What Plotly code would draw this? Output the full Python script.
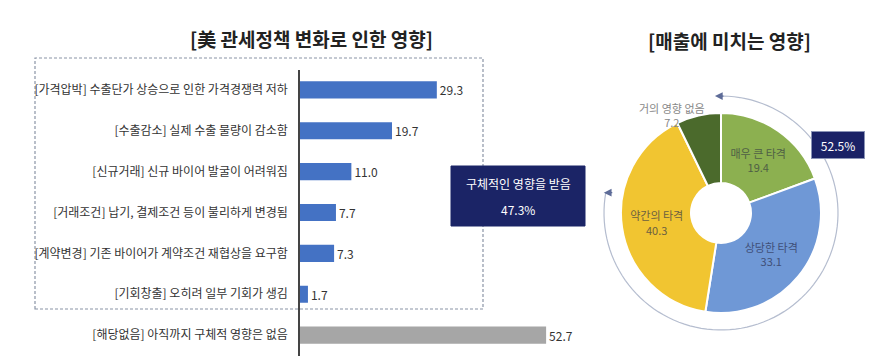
import math
import plotly.graph_objects as go

W, H = 893, 361

# ---------------- data ----------------
bar_labels = [
    "[가격압박] 수출단가 상승으로 인한 가격경쟁력 저하",
    "[수출감소] 실제 수출 물량이 감소함",
    "[신규거래] 신규 바이어 발굴이 어려워짐",
    "[거래조건] 납기, 결제조건 등이 불리하게 변경됨",
    "[계약변경] 기존 바이어가 계약조건 재협상을 요구함",
    "[기회창출] 오히려 일부 기회가 생김",
    "[해당없음] 아직까지 구체적 영향은 없음",
]
bar_values = [29.3, 19.7, 11.0, 7.7, 7.3, 1.7, 52.7]
bar_colors = ["#4472C4"] * 6 + ["#A6A6A6"]

pie_labels = ["매우 큰 타격", "상당한 타격", "약간의 타격", "거의 영향 없음"]
pie_values = [19.4, 33.1, 40.3, 7.2]
pie_colors = ["#8CB050", "#6F98D6", "#F1C531", "#4B6A2C"]
pie_text_colors = ["#4F5F45", "#3F4F78", "#6B6040", "#888888"]
pie_inside = [True, True, True, False]

left_title = "[美 관세정책 변화로 인한 영향]"
right_title = "[매출에 미치는 영향]"
box_lines = ["구체적인 영향을 받음", "47.3%"]
arc_text = "52.5%"

FONT = "Noto Sans CJK KR"


def px(x):
    return x / W


def py(y):
    return 1 - y / H


fig = go.Figure()

fig.add_trace(go.Bar(
    x=bar_values,
    y=bar_labels,
    orientation="h",
    marker=dict(color=bar_colors, line=dict(width=0)),
    width=0.42,
    text=[f"{v:.1f}" for v in bar_values],
    textposition="outside",
    textfont=dict(size=12, color="#333333", family=FONT),
    cliponaxis=False,
    xaxis="x", yaxis="y",
    showlegend=False,
    hoverinfo="skip",
))

fig.add_trace(go.Pie(
    labels=pie_labels,
    values=pie_values,
    sort=False,
    direction="clockwise",
    rotation=0,
    hole=0.3,
    marker=dict(colors=pie_colors, line=dict(color="white", width=2)),
    texttemplate=[("%{label}<br>%{value:.1f}" if ins else " ") for ins in pie_inside],
    textposition="inside",
    insidetextorientation="horizontal",
    textfont=dict(size=11, color=pie_text_colors, family=FONT),
    domain=dict(x=[px(613), px(813)], y=[py(305), py(105)]),
    showlegend=False,
    hoverinfo="skip",
))

shapes = []
# dashed group box
shapes.append(dict(type="rect", xref="paper", yref="paper",
                   x0=px(27), x1=px(475), y0=py(301), y1=py(50),
                   line=dict(color="#8A94A6", width=1.2, dash="3px,2px"),
                   fillcolor="rgba(0,0,0,0)", layer="below"))
# navy callout box
shapes.append(dict(type="rect", xref="paper", yref="paper",
                   x0=px(443), x1=px(577), y0=py(218), y1=py(158),
                   line=dict(color="#1B2466", width=1), fillcolor="#1B2466", layer="above"))

# arc around donut
cx, cy, r = 713, 205, 117
a0, a1 = -92, 190
pts = []
for i in range(0, 101):
    a = math.radians(a0 + (a1 - a0) * i / 100)
    pts.append((px(cx + r * math.cos(a)), py(cy + r * math.sin(a))))
path = "M " + " L ".join(f"{x:.5f},{y:.5f}" for x, y in pts)
shapes.append(dict(type="path", xref="paper", yref="paper", path=path,
                   line=dict(color="#B5BDCF", width=1.2)))

annotations = [
    dict(text=f"<b>{left_title}</b>", x=px(303), y=py(31), xref="paper", yref="paper",
         xanchor="center", yanchor="middle",
         showarrow=False, font=dict(size=19, color="#222222", family=FONT)),
    dict(text=f"<b>{right_title}</b>", x=px(721), y=py(32), xref="paper", yref="paper",
         xanchor="center", yanchor="middle",
         showarrow=False, font=dict(size=19, color="#222222", family=FONT)),
    dict(text=arc_text, x=px(830), y=py(137), xref="paper", yref="paper",
         xanchor="center", yanchor="middle",
         showarrow=False, font=dict(size=12, color="white", family=FONT),
         bgcolor="#1A2266", bordercolor="#8A94B6", borderwidth=1, borderpad=3, width=46, height=20),
]
for line, yy in zip(box_lines, (175, 201)):
    annotations.append(dict(text=line, x=px(510), y=py(yy), xref="paper", yref="paper",
                            xanchor="center", yanchor="middle", showarrow=False,
                            font=dict(size=12, color="white", family=FONT)))
# outside label of the small slice
for lab, val, ins, col in zip(pie_labels, pie_values, pie_inside, pie_text_colors):
    if not ins:
        annotations.append(dict(text=f"{lab}<br>{val:.1f}", x=px(664), y=py(107),
                                xref="paper", yref="paper", xanchor="center", yanchor="middle",
                                showarrow=False, font=dict(size=11, color=col, family=FONT)))
# arrowheads at arc ends
for ang in (a0, a1):
    ex = cx + r * math.cos(math.radians(ang))
    ey = cy + r * math.sin(math.radians(ang))
    annotations.append(dict(text="", x=px(ex - 2), y=py(ey), xref="paper", yref="paper",
                            ax=10, ay=0, showarrow=True, arrowhead=2, arrowsize=1.3,
                            arrowwidth=1.2, arrowcolor="#5E6C98"))

fig.update_layout(
    width=W, height=H,
    margin=dict(l=0, r=0, t=0, b=0),
    paper_bgcolor="white", plot_bgcolor="white",
    font=dict(family=FONT, color="#333333"),
    xaxis=dict(domain=[px(292), px(292 + 60 * 4.67)], range=[0, 60],
               showgrid=False, zeroline=False, showticklabels=False, showline=False),
    yaxis=dict(domain=[py(347.5), py(61.5)], autorange="reversed",
               categoryorder="array", categoryarray=bar_labels,
               showgrid=False, zeroline=False, showline=True, linecolor="#444444",
               linewidth=1.5, ticks="", ticklabelstandoff=8,
               tickfont=dict(size=12, color="#333333", family=FONT)),
    shapes=shapes,
    annotations=annotations,
)

fig.write_html("out.html")
